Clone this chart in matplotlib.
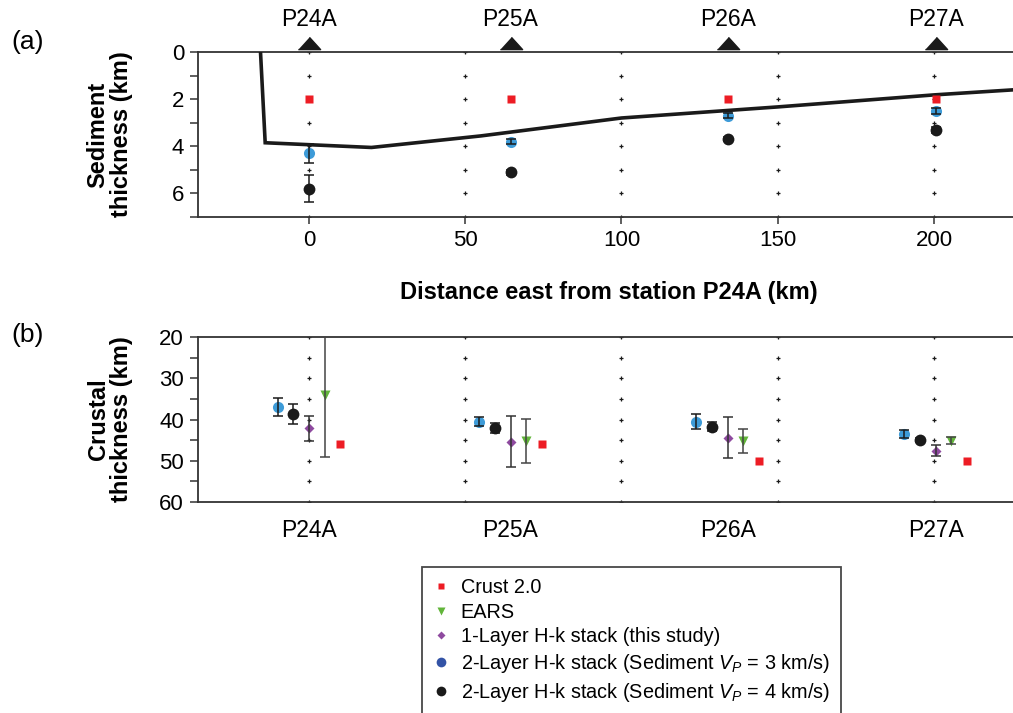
import matplotlib.pyplot as plt
from matplotlib.lines import Line2D
import numpy as np

plt.rcParams['font.family'] = ['Liberation Sans', 'DejaVu Sans']
plt.rcParams['mathtext.fontset'] = 'custom'
plt.rcParams['mathtext.rm'] = 'Liberation Sans'
plt.rcParams['mathtext.it'] = 'Liberation Sans:italic'

# station names and distance east of P24A (km)
stations = ['P24A', 'P25A', 'P26A', 'P27A']
station_x = [0, 64.5, 134, 200.5]

# sediment basin outline (km east, km depth)
basin_x = [-15.5, -14, 20, 55, 100, 150, 200, 226]
basin_z = [0, 3.85, 4.05, 3.56, 2.8, 2.33, 1.82, 1.6]

# (a) sediment thickness
sed_crust2 = [2.0, 2.0, 2.0, 2.0]
sed_vp3 = [4.3, 3.8, 2.7, 2.5]
sed_vp3_err = [0.4, 0.12, 0.12, 0.12]
sed_vp4 = [5.8, 5.1, 3.7, 3.3]
sed_vp4_err = [0.57, 0.1, 0.08, 0.12]

# (b) crustal thickness
crust2 = [46.0, 46.0, 50.0, 50.0]
ears = [34.0, 45.2, 45.3, 45.1]
ears_err = [15.0, 5.3, 2.9, 0.8]
one_layer = [42.1, 45.4, 44.4, 47.6]
one_layer_err = [3.0, 6.2, 5.0, 1.3]
two_vp3 = [37.0, 40.5, 40.5, 43.5]
two_vp3_err = [2.2, 1.0, 1.9, 0.9]
two_vp4 = [38.6, 42.0, 41.7, 45.0]
two_vp4_err = [2.4, 1.2, 1.2, 0.5]

RED = '#ed1c24'
GREEN = '#62b53a'
PURPLE = '#8e4a9f'
BLUE = '#3d9bd8'
BLUE_LEG = '#3353a6'
BLACK = '#1a1a1a'
SPINE = '#333333'

W, H = 1013, 713
fig = plt.figure(figsize=(W / 100, H / 100), dpi=100)

def px(x0, y0, x1, y1):
    return [x0 / W, 1 - y1 / H, (x1 - x0) / W, (y1 - y0) / H]

ax1 = fig.add_axes(px(198, 52, 1013, 217))
ax2 = fig.add_axes(px(198, 337, 1013, 502))

xlim = (-35.5, 225.3)
grid_x = [0, 50, 100, 150, 200]

for ax in (ax1, ax2):
    ax.set_xlim(*xlim)
    ax.spines['right'].set_visible(False)
    for s in ('left', 'top', 'bottom'):
        ax.spines[s].set_color(SPINE)
        ax.spines[s].set_linewidth(1.3)
    ax.tick_params(axis='both', which='both', direction='out', color=SPINE,
                   labelsize=16, width=1.1)
    ax.tick_params(axis='y', which='major', length=6, pad=4)
    ax.tick_params(axis='y', which='minor', length=6)

def bars(ax, x, y, err, color):
    ax.errorbar(x, y, yerr=err, fmt='none', ecolor=color, elinewidth=1.1,
                capsize=3.5, capthick=1.1, zorder=3)

# ---- panel (a)
ax1.set_ylim(7, 0)
ax1.set_yticks([0, 2, 4, 6])
ax1.set_yticks([1, 3, 5, 7], minor=True)
ax1.set_xticks(grid_x)
ax1.tick_params(axis='x', length=5, pad=4)
for gx in grid_x:
    ax1.plot([gx] * 8, np.arange(0, 8), ls='none', marker='+', ms=3.5,
             mew=0.9, color=BLACK, zorder=1)

ax1.plot(basin_x, basin_z, color=BLACK, lw=2.6, zorder=4,
         solid_joinstyle='miter')
ax1.plot(station_x, sed_vp3, 'o', ms=8, color=BLUE, mec='none', zorder=2)
ax1.plot(station_x, sed_vp4, 'o', ms=8.5, color=BLACK, mec='none', zorder=2)
bars(ax1, station_x, sed_vp3, sed_vp3_err, BLACK)
bars(ax1, station_x, sed_vp4, sed_vp4_err, BLACK)
ax1.plot(station_x, sed_crust2, 's', ms=5.5, color=RED, mec='none', zorder=5)

tri = [(-1, -0.55), (1, -0.55), (0, 0.55)]
trans = ax1.get_xaxis_transform()
ax1.plot(station_x, [1.052] * 4, ls='none', marker=tri, ms=16, color=BLACK,
         transform=trans, clip_on=False)
for name, sx in zip(stations, station_x):
    ax1.text(sx, 1.195, name, transform=trans, ha='center', va='center',
             fontsize=16.5)

# ---- panel (b)
ax2.set_ylim(60, 20)
ax2.set_yticks([20, 30, 40, 50, 60])
ax2.set_yticks([25, 35, 45, 55], minor=True)
ax2.set_xticks(station_x)
ax2.set_xticklabels(stations)
ax2.tick_params(axis='x', length=0, pad=12, labelsize=16.5)
for gx in grid_x:
    ax2.plot([gx] * 9, np.arange(20, 61, 5), ls='none', marker='+', ms=3.5,
             mew=0.9, color=BLACK, zorder=1)

sx = np.array(station_x)
ax2.plot(sx - 10, two_vp3, 'o', ms=8, color=BLUE, mec='none', zorder=2)
ax2.plot(sx - 5, two_vp4, 'o', ms=8.5, color=BLACK, mec='none', zorder=2)
ax2.plot(sx, one_layer, 'D', ms=5.5, color=PURPLE, mec='none', zorder=2)
ax2.plot(sx + 5, ears, 'v', ms=7, color=GREEN, mec='none', zorder=2)
bars(ax2, sx - 10, two_vp3, two_vp3_err, BLACK)
bars(ax2, sx - 5, two_vp4, two_vp4_err, BLACK)
bars(ax2, sx, one_layer, one_layer_err, '#333333')
bars(ax2, sx + 5, ears, ears_err, '#444444')
ax2.plot(sx + 10, crust2, 's', ms=5.5, color=RED, mec='none', zorder=3)

# ---- labels
fig.text(28 / W, 1 - 42 / H, '(a)', fontsize=19, ha='center', va='center')
fig.text(28 / W, 1 - 335 / H, '(b)', fontsize=19, ha='center', va='center')
fig.text(110 / W, 1 - 134.5 / H, 'Sediment\nthickness (km)', rotation=90,
         ha='center', va='center', fontsize=17, fontweight='bold',
         linespacing=1.05)
fig.text(110 / W, 1 - 419.5 / H, 'Crustal\nthickness (km)', rotation=90,
         ha='center', va='center', fontsize=17, fontweight='bold',
         linespacing=1.05)
fig.text(609 / W, 1 - 293 / H, 'Distance east from station P24A (km)',
         ha='center', va='center', fontsize=17, fontweight='bold')

# ---- legend
handles = [
    Line2D([], [], ls='none', marker='s', ms=5, color=RED, mec='none'),
    Line2D([], [], ls='none', marker='v', ms=6, color=GREEN, mec='none'),
    Line2D([], [], ls='none', marker='D', ms=4.5, color=PURPLE, mec='none'),
    Line2D([], [], ls='none', marker='o', ms=7, color=BLUE_LEG, mec='none'),
    Line2D([], [], ls='none', marker='o', ms=7, color=BLACK, mec='none'),
]
labels = [
    'Crust 2.0',
    'EARS',
    '1-Layer H-k stack (this study)',
    '2-Layer H-k stack (Sediment $V_P$ = 3 km/s)',
    '2-Layer H-k stack (Sediment $V_P$ = 4 km/s)',
]
leg = fig.legend(handles, labels, loc='upper left',
                 bbox_to_anchor=(422 / W, 1 - 567 / H), fontsize=14.3,
                 frameon=True, fancybox=False, edgecolor=BLACK,
                 handlelength=0.8, handletextpad=0.6, labelspacing=0.29,
                 borderpad=0.55, borderaxespad=0)
leg.get_frame().set_linewidth(1.3)

fig.savefig('out.png', dpi=100)
